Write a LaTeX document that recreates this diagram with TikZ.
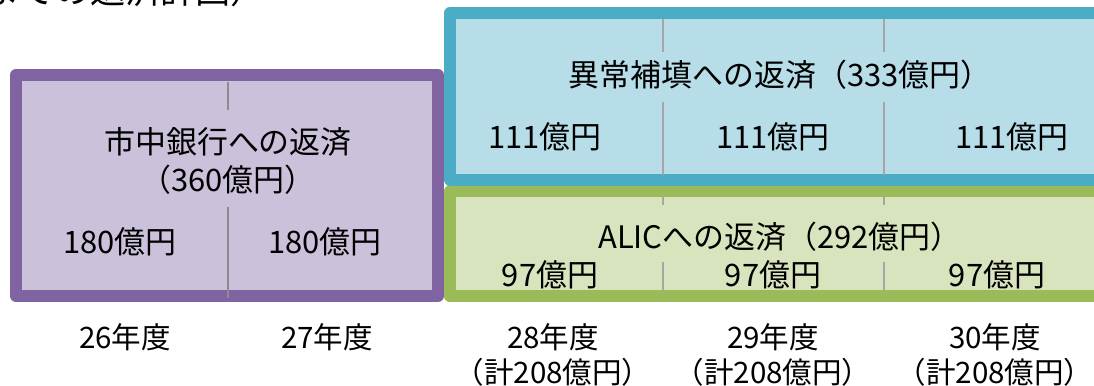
\documentclass[tikz,border=0pt]{standalone}
\usepackage{fontspec}
\setmainfont{Noto Sans CJK JP}
\definecolor{bankline}{HTML}{8064A2}
\definecolor{bankfill}{HTML}{CCC1DA}
\definecolor{hosenline}{HTML}{4BACC6}
\definecolor{hosenfill}{HTML}{B7DEE8}
\definecolor{alicline}{HTML}{9BBB59}
\definecolor{alicfill}{HTML}{D7E4BD}
\definecolor{cutgray}{HTML}{8C8C8C}
\definecolor{cutlight}{HTML}{A6A6A6}
\begin{document}
\begin{tikzpicture}[x=0.025cm,y=-0.025cm,inner sep=0pt,outer sep=0pt,
plan/.style={line width=0.3cm,line join=round},
cut/.style={line width=0.05cm},
lbl/.style={font=\fontsize{22}{26}\selectfont},
yearlbl/.style={font=\fontsize{21}{25}\selectfont}]
\useasboundingbox (0,0) rectangle (1094,386);
\node[anchor=south east,font=\fontsize{25}{28}\selectfont] (title) at (266,7) {までの返済計画）};
\draw[plan,draw=bankline,fill=bankfill] (16,75) rectangle (438,296);
\draw[plan,draw=alicline,fill=alicfill] (450,191.5) rectangle (1120,296.5);
\draw[plan,draw=hosenline,fill=hosenfill] (450,13) rectangle (1120,180);
\draw[cut,draw=cutgray] (228,82) -- (228,110) (228,207) -- (228,298);
\foreach \x in {663,884} {
  \draw[cut,draw=cutlight] (\x,19) -- (\x,52) (\x,102) -- (\x,175);
  \draw[cut,draw=cutlight] (\x,197) -- (\x,205) (\x,262) -- (\x,291);
}
\node[lbl] (bank) at (228,142) {市中銀行への返済};
\node[lbl] (banksum) at (228,180) {（360億円）};
\node[lbl] (bank26) at (120,242) {180億円};
\node[lbl] (bank27) at (325,242) {180億円};
\node[lbl] (hosen) at (780,75) {異常補填への返済（333億円）};
\node[lbl] (hosen28) at (545,137) {111億円};
\node[lbl] (hosen29) at (773,137) {111億円};
\node[lbl] (hosen30) at (1012,137) {111億円};
\node[lbl] (alic) at (780,237) {ALICへの返済（292億円）};
\node[lbl] (alic28) at (550,275) {97億円};
\node[lbl] (alic29) at (773,275) {97億円};
\node[lbl] (alic30) at (997,275) {97億円};
\foreach \yr/\x in {26/125,27/327,28/553,29/773,30/995}
  \node[yearlbl] (y\yr) at (\x,337) {\yr{}年度};
\foreach \yr/\x in {28/553,29/773,30/995}
  \node[yearlbl] (t\yr) at (\x,372) {（計208億円）};
\end{tikzpicture}
\end{document}
